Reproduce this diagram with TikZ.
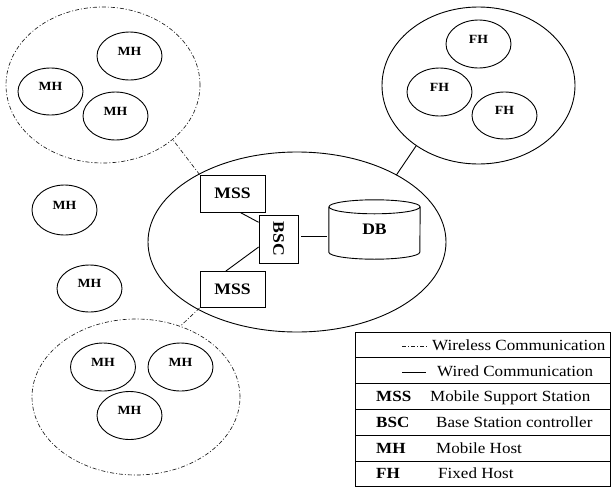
\documentclass[tikz,border=0pt]{standalone}
\usepackage{fontspec}
\setmainfont[FakeStretch=1.1]{Liberation Serif}
\usetikzlibrary{shapes.geometric}
\begin{document}
\begin{tikzpicture}[x=1pt,y=-1pt,
  wired/.style={line width=0.9pt},
  wless/.style={line width=0.65pt, black!90, dash pattern=on 4pt off 2pt on 1pt off 2pt},
  lbl/.style={font=\fontsize{12.5}{14}\selectfont\bfseries},
  host/.style={ellipse, draw, line width=0.9pt, minimum width=65pt, minimum height=48pt, inner sep=0pt,
    label={[lbl,yshift=5pt]center:#1}},
  cloud/.style={ellipse, draw, inner sep=0pt, outer sep=0pt},
  box/.style={rectangle, draw, line width=0.8pt, inner sep=0pt, font=\fontsize{16}{18}\selectfont\bfseries},
  legrow/.style={rectangle, draw, line width=0.8pt, minimum width=255pt, minimum height=25.8pt, inner sep=0pt},
  legabbr/.style={anchor=base west, inner sep=0pt, font=\fontsize{15.5}{17}\selectfont\bfseries},
  legtxt/.style={anchor=base west, inner sep=0pt, font=\fontsize{15.5}{17}\selectfont}
]
\useasboundingbox (0,0) rectangle (611,488);

% top-left wireless cell
\node[cloud, wless, minimum width=194pt, minimum height=156pt] (tl) at (103,85) {};
\node[host=MH] (mh1) at (129.5,56) {};
\node[host=MH, minimum height=47pt] (mh2) at (50.5,91.5) {};
\node[host=MH] (mh3) at (115.5,116) {};

% fixed host cell
\node[cloud, wired, minimum width=193pt, minimum height=157pt] (fh) at (478.5,85.5) {};
\node[host=FH] (fh1) at (478.5,44) {};
\node[host=FH] (fh2) at (439.5,92) {};
\node[host=FH, minimum height=47pt] (fh3) at (504.5,115.5) {};

% standalone mobile hosts
\node[host=MH, minimum height=50pt] (mh4) at (64.5,210) {};
\node[host=MH, minimum height=47pt] (mh5) at (89.5,288.5) {};

% bottom wireless cell
\node[cloud, wless, minimum width=208pt, minimum height=156pt] (bl) at (136,397) {};
\node[host=MH] (mh6) at (103,367) {};
\node[host=MH] (mh7) at (180.5,367) {};
\node[host=MH] (mh8) at (129.5,415.5) {};

% central wired network
\node[cloud, wired, minimum width=298pt, minimum height=180pt] (ctr) at (297,242) {};
\node[box, minimum width=65pt, minimum height=37pt] (mss1) at (232.5,193.5) {MSS};
\node[box, minimum width=65pt, minimum height=36pt] (mss2) at (232.5,289.5) {MSS};
\node[box, minimum width=39pt, minimum height=48pt] (bsc) at (278.5,239) {\rotatebox{-90}{BSC}};
\node[rectangle, inner sep=0pt, minimum width=91pt, minimum height=45pt,
      font=\fontsize{16}{18}\selectfont\bfseries] (db) at (374.5,229.5) {\raisebox{1pt}{DB}};
\draw[wired] (db.north west) -- (db.south west)
  arc[start angle=180, end angle=0, x radius=45.5, y radius=7] -- (db.north east);
\draw[wired] (db.north) ellipse [x radius=45.5, y radius=7];

% connectors
\draw[wired] (ctr.34) -- (fh.224);
\draw[wless] (mss1.north west) -- (tl.-38.6);
\draw[wless] (mss2.south west) -- (bl.58.6);
\draw[wired] (mss1.-68) -- (bsc.140.6);
\draw[wired] (mss2.110) -- (bsc.202);
\coordinate (bscr) at ([yshift=3pt]bsc.east);
\draw[wired, shorten <=3pt, shorten >=2pt] (bscr) -- (bscr -| db.west);

% legend
\node[legrow] (r1) at (482.5,344.9) {};
\node[legrow] (r2) at (482.5,370.7) {};
\node[legrow] (r3) at (482.5,396.5) {};
\node[legrow] (r4) at (482.5,422.3) {};
\node[legrow] (r5) at (482.5,448.1) {};
\node[legrow] (r6) at (482.5,473.9) {};

\coordinate (wl1) at (402,346);
\coordinate (wl2) at (427,346);
\draw[wless] (wl1) -- (wl2);
\node[legtxt] (t1) at (432,350) {Wireless Communication};
\coordinate (wd1) at (402,372);
\coordinate (wd2) at (426,372);
\draw[wired] (wd1) -- (wd2);
\node[legtxt] (t2) at (437,376) {Wired Communication};
\node[legabbr] (a3) at (376,401.5) {MSS};
\node[legtxt] (t3) at (430,401.5) {Mobile Support Station};
\node[legabbr] (a4) at (376,427.3) {BSC};
\node[legtxt] (t4) at (436,427.3) {Base Station controller};
\node[legabbr] (a5) at (376,453.1) {MH};
\node[legtxt] (t5) at (436,453.1) {Mobile Host};
\node[legabbr] (a6) at (376,478.9) {FH};
\node[legtxt] (t6) at (438,478.9) {Fixed Host};
\end{tikzpicture}
\end{document}
